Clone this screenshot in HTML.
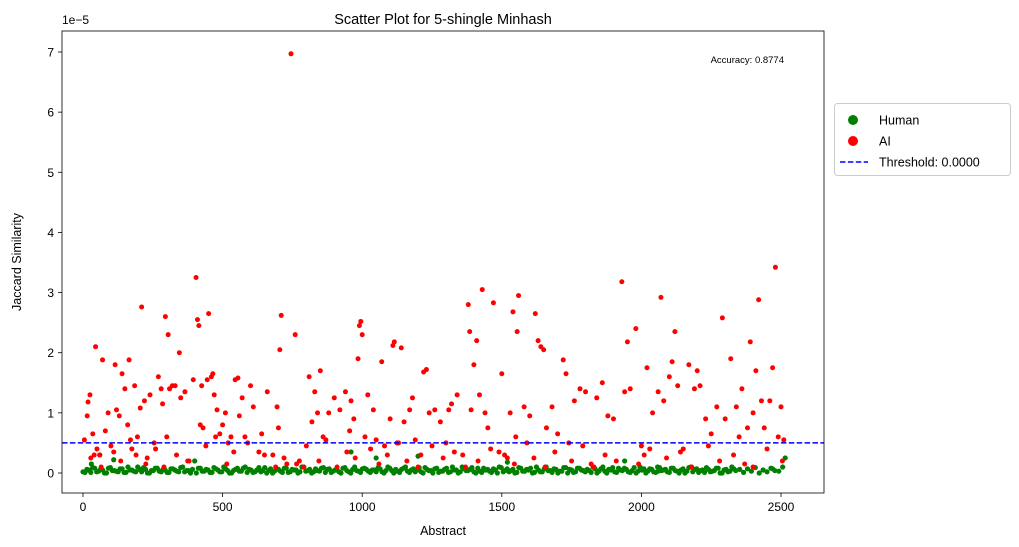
<!DOCTYPE html>
<html><head><meta charset="utf-8">
<style>
html,body{margin:0;padding:0;background:#fff;}
svg{display:block;font-family:"Liberation Sans","DejaVu Sans",sans-serif;}
</style></head>
<body>
<svg id="chart" width="1019" height="547" viewBox="0 0 1019 547"></svg>
<script>
const xTicks=[0,500,1000,1500,2000,2500];
const yTicks=[0,1,2,3,4,5,6,7];
const threshold=0.5;
const aiX=[5,15,18,25,28,35,45,50,60,70,80,90,100,115,120,130,140,150,160,165,175,185,190,195,205,210,220,230,240,255,270,280,285,295,300,305,310,320,330,345,350,365,375,395,405,410,415,420,425,430,445,450,460,465,470,480,490,500,510,520,530,545,555,560,570,580,600,610,630,640,660,680,695,700,705,710,730,745,760,775,790,810,820,830,840,850,860,880,900,920,940,955,960,970,985,990,995,1000,1010,1020,1040,1050,1070,1080,1100,1110,1115,1130,1140,1150,1170,1180,1190,1210,1220,1230,1240,1260,1280,1300,1310,1320,1340,1360,1380,1385,1390,1400,1410,1420,1430,1440,1450,1470,1490,1500,1520,1530,1540,1550,1555,1560,1580,1600,1620,1630,1640,1650,1660,1680,1700,1720,1730,1740,1760,1780,1800,1820,1840,1860,1880,1900,1930,1940,1950,1960,1980,2000,2010,2020,2040,2060,2070,2080,2100,2110,2120,2130,2150,2170,2190,2200,2210,2230,2250,2270,2290,2300,2320,2340,2350,2360,2380,2390,2400,2410,2420,2430,2440,2460,2470,2480,2490,2500,2510,
40,65,110,135,170,225,260,290,335,380,440,475,515,540,590,650,690,720,765,800,845,870,910,945,975,1030,1060,1090,1125,1160,1200,1250,1290,1330,1370,1415,1460,1510,1545,1590,1615,1655,1690,1750,1790,1830,1870,1910,1990,2030,2090,2140,2180,2240,2280,2330,2370,2400,2450,2505];
const aiY=[0.55,0.95,1.18,1.3,0.25,0.65,2.1,0.4,0.3,1.88,0.7,1.0,0.45,1.8,1.05,0.95,1.65,1.4,0.8,1.88,0.4,1.45,0.3,0.6,1.08,2.76,1.2,0.25,1.3,0.5,1.6,1.4,1.15,2.6,0.6,2.3,1.4,1.45,1.45,2.0,1.25,1.35,0.2,1.55,3.25,2.55,2.45,0.8,1.45,0.75,1.55,2.65,1.6,1.65,1.3,1.05,0.65,0.8,1.0,0.5,0.6,1.55,1.58,0.95,1.25,0.6,1.45,1.1,0.35,0.65,1.35,0.3,1.1,0.75,2.05,2.62,0.15,6.97,2.3,0.2,0.1,1.6,0.85,1.35,1.0,1.7,0.6,1.0,1.25,1.05,1.35,0.7,1.2,0.9,1.9,2.45,2.52,2.3,0.6,1.3,1.05,0.55,1.85,0.45,0.9,2.12,2.18,0.5,2.08,0.85,1.05,1.25,0.55,0.3,1.68,1.72,1.0,1.05,0.85,0.5,1.05,1.15,1.3,0.3,2.8,2.35,1.05,1.8,2.2,1.3,3.05,1.0,0.75,2.83,0.35,1.65,0.25,1.0,2.68,0.6,2.35,2.95,1.1,0.95,2.65,2.2,2.1,2.05,0.75,1.1,0.65,1.88,1.65,0.5,1.2,1.4,1.35,0.15,1.25,1.5,0.95,0.9,3.18,1.35,2.18,1.4,2.4,0.45,0.3,1.75,1.0,1.35,2.92,1.2,1.6,1.85,2.35,1.45,0.4,1.8,1.4,1.7,1.45,0.9,0.65,1.1,2.58,0.9,1.9,1.1,0.6,1.4,0.75,2.18,1.0,1.7,2.88,1.2,0.75,1.2,1.75,3.42,0.6,1.1,0.55,
0.3,0.1,0.35,0.2,0.55,0.15,0.4,0.1,0.3,0.2,0.45,0.6,0.15,0.35,0.5,0.3,0.1,0.25,0.15,0.45,0.2,0.55,0.1,0.35,0.25,0.4,0.15,0.3,0.5,0.2,0.1,0.45,0.25,0.35,0.1,0.2,0.4,0.3,0.15,0.5,0.25,0.1,0.35,0.2,0.45,0.1,0.3,0.2,0.15,0.4,0.25,0.35,0.1,0.45,0.2,0.3,0.15,0.1,0.4,0.2];
const humanX=[0,14,28,42,56,70,84,98,112,126,140,154,168,182,196,210,224,238,252,266,280,294,308,322,336,350,364,378,392,406,420,434,448,462,476,490,504,518,532,546,560,574,588,602,616,630,644,658,672,686,700,714,728,742,756,770,784,798,812,826,840,854,868,882,896,910,924,938,952,966,980,994,1008,1022,1036,1050,1064,1078,1092,1106,1120,1134,1148,1162,1176,1190,1204,1218,1232,1246,1260,1274,1288,1302,1316,1330,1344,1358,1372,1386,1400,1414,1428,1442,1456,1470,1484,1498,1512,1526,1540,1554,1568,1582,1596,1610,1624,1638,1652,1666,1680,1694,1708,1722,1736,1750,1764,1778,1792,1806,1820,1834,1848,1862,1876,1890,1904,1918,1932,1946,1960,1974,1988,2002,2016,2030,2044,2058,2072,2086,2100,2114,2128,2142,2156,2170,2184,2198,2212,2226,2240,2254,2268,2282,2296,2310,2324,2338,2352,2366,2380,2394,2408,2422,2436,2450,2464,2478,2492,2506,2515,
30,60,110,400,960,1050,1200,1520,1940,2060,2470,7,21,35,49,63,77,91,105,119,133,147,161,175,189,203,217,231,245,259,273,287,301,315,329,343,357,371,385,413,427,441,455,469,483,497,511,525,539,553,567,581,595,609,623,637,651,665,679,693,707,721,735,749,763,777,791,805,819,833,847,861,875,889,903,917,931,945,959,973,987,1001,1015,1029,1043,1057,1071,1085,1099,1113,1127,1141,1155,1169,1183,1197,1211,1225,1239,1253,1267,1281,1295,1309,1323,1337,1351,1365,1379,1393,1407,1421,1435,1449,1463,1477,1491,1505,1519,1533,1547,1561,1575,1589,1603,1617,1631,1645,1659,1673,1687,1701,1715,1729,1743,1757,1771,1785,1799,1813,1827,1841,1855,1869,1883,1897,1911,1925,1939,1953,1967,1981,1995,2009,2023,2037,2051,2065,2079,2093,2107,2121,2135,2149,2163,2177,2191,2205,2219,2233,2247,2261,2275,2289,2303,2317,2331,2345,2359,2373,2387,2401,2415,2429,2443,2457,2471,2485,2499,2511];
const humanY=[0.02,0.06,0.01,0.08,0.03,0.05,0.0,0.09,0.04,0.02,0.07,0.01,0.05,0.03,0.1,0.02,0.06,0.0,0.04,0.08,0.02,0.05,0.01,0.07,0.03,0.09,0.02,0.04,0.06,0.0,0.08,0.03,0.05,0.01,0.07,0.02,0.1,0.04,0.0,0.06,0.03,0.08,0.01,0.05,0.02,0.09,0.04,0.0,0.07,0.03,0.06,0.01,0.08,0.02,0.05,0.0,0.1,0.03,0.06,0.02,0.04,0.08,0.01,0.07,0.03,0.05,0.0,0.09,0.02,0.06,0.04,0.01,0.08,0.03,0.05,0.02,0.07,0.0,0.1,0.04,0.06,0.01,0.08,0.03,0.05,0.02,0.09,0.0,0.06,0.04,0.07,0.01,0.03,0.08,0.02,0.05,0.0,0.1,0.04,0.06,0.02,0.08,0.01,0.05,0.03,0.07,0.0,0.09,0.04,0.02,0.06,0.01,0.08,0.03,0.05,0.0,0.1,0.02,0.07,0.04,0.01,0.06,0.03,0.09,0.0,0.05,0.02,0.08,0.04,0.06,0.01,0.07,0.03,0.1,0.0,0.05,0.02,0.08,0.04,0.06,0.01,0.09,0.03,0.05,0.0,0.07,0.02,0.1,0.04,0.06,0.01,0.08,0.03,0.05,0.0,0.09,0.02,0.07,0.04,0.01,0.06,0.03,0.08,0.0,0.05,0.02,0.1,0.04,0.06,0.01,0.07,0.03,0.09,0.0,0.05,0.02,0.08,0.04,0.03,
0.1,0.25,0.15,0.3,0.22,0.2,0.35,0.25,0.28,0.18,0.2,0.03,0.07,0.01,0.05,0.09,0.02,0.06,0.0,0.08,0.04,0.03,0.07,0.01,0.1,0.05,0.02,0.06,0.09,0.0,0.04,0.08,0.03,0.06,0.01,0.07,0.05,0.02,0.1,0.04,0.0,0.08,0.03,0.06,0.01,0.09,0.05,0.02,0.07,0.0,0.04,0.08,0.03,0.1,0.06,0.01,0.05,0.02,0.09,0.04,0.0,0.07,0.03,0.08,0.01,0.06,0.05,0.02,0.1,0.04,0.0,0.07,0.03,0.09,0.06,0.01,0.05,0.02,0.08,0.04,0.0,0.1,0.03,0.07,0.06,0.01,0.05,0.09,0.02,0.04,0.08,0.0,0.03,0.06,0.1,0.01,0.07,0.05,0.02,0.09,0.04,0.0,0.08,0.03,0.06,0.01,0.1,0.05,0.02,0.07,0.04,0.09,0.0,0.03,0.08,0.06,0.01,0.05,0.1,0.02,0.07,0.04,0.0,0.09,0.03,0.06,0.08,0.01,0.05,0.02,0.1,0.04,0.07,0.0,0.03,0.09,0.06,0.01,0.08,0.05,0.02,0.04,0.1,0.0,0.07,0.03,0.06,0.09,0.01,0.05,0.08,0.02,0.04,0.0,0.1,0.07,0.03,0.06,0.01,0.09,0.05,0.02,0.08,0.04,0.0,0.07,0.03,0.1,0.06,0.01,0.05,0.09,0.02,0.04,0.08,0.0,0.06,0.03,0.07];

const svg=document.getElementById('chart');
const NS='http://www.w3.org/2000/svg';
const L=62,R=824,T=31,B=493;
const xs=v=>83+v*(698/2500);
const ys=v=>473-v*(421/7);
function mk(tag,attrs,parent){const e=document.createElementNS(NS,tag);for(const k in attrs)e.setAttribute(k,attrs[k]);(parent||svg).appendChild(e);return e;}

const plot=mk('g',{});


const hg=mk('g',{},plot);


const hn=Math.min(humanX.length,humanY.length);
for(let i=0;i<hn;i++){
  if(typeof humanY[i]!=='number'||typeof humanX[i]!=='number')continue;
  const c=mk('circle',{cx:xs(humanX[i]),cy:ys(humanY[i]),r:2.6,fill:'#008000'},hg);
  
  
}
const ag=mk('g',{},plot);


const an=Math.min(aiX.length,aiY.length);
for(let i=0;i<an;i++){
  const c=mk('circle',{cx:xs(aiX[i]),cy:ys(aiY[i]),r:2.5,fill:'#ff0000'},ag);
  
  
}
const th=mk('line',{x1:L,x2:R,y1:ys(threshold),y2:ys(threshold),stroke:'#0000ff','stroke-width':1.5,'stroke-dasharray':'5.5,2.4'});



const frame=mk('rect',{x:L,y:T,width:R-L,height:B-T,fill:'none',stroke:'#000','stroke-width':0.8});



xTicks.forEach(t=>{
  const x=xs(t);
  mk('line',{x1:x,x2:x,y1:B,y2:B+4,stroke:'#000','stroke-width':0.8});
  const tx=mk('text',{x:x,y:B+18,'text-anchor':'middle','font-size':12,fill:'#000'});
  tx.textContent=t;
  
  
});
yTicks.forEach(t=>{
  const y=ys(t);
  mk('line',{x1:L-4,x2:L,y1:y,y2:y,stroke:'#000','stroke-width':0.8});
  const tx=mk('text',{x:L-8,y:y+4.5,'text-anchor':'end','font-size':12,fill:'#000'});
  tx.textContent=t;
  
  
});
</script>
<svg style="position:absolute;left:0;top:0" width="1019" height="547">
  <text x="62" y="24" font-size="12">1e−5</text>
  <text x="443" y="24" font-size="14.5" text-anchor="middle">Scatter Plot for 5-shingle Minhash</text>
  <text x="443" y="535" font-size="12.5" text-anchor="middle">Abstract</text>
  <text x="21" y="262" font-size="12.5" text-anchor="middle" transform="rotate(-90 21 262)">Jaccard Similarity</text>
  <text x="784" y="63" font-size="9.5" text-anchor="end">Accuracy: 0.8774</text>
  <g>
    <rect x="834.5" y="103.5" width="176" height="72" rx="3" fill="#fff" stroke="#ccc"/>
    <circle cx="853" cy="120" r="5" fill="#008000"/>
    <text x="879" y="124.5" font-size="12.5">Human</text>
    <circle cx="853" cy="141" r="5" fill="#ff0000"/>
    <text x="879" y="145.5" font-size="12.5">AI</text>
    <line x1="840" x2="868" y1="162" y2="162" stroke="#0000ff" stroke-width="1.5" stroke-dasharray="5.5,2.4"/>
    <text x="879" y="166.5" font-size="12.5">Threshold: 0.0000</text>
  </g>
</svg>
</body></html>
